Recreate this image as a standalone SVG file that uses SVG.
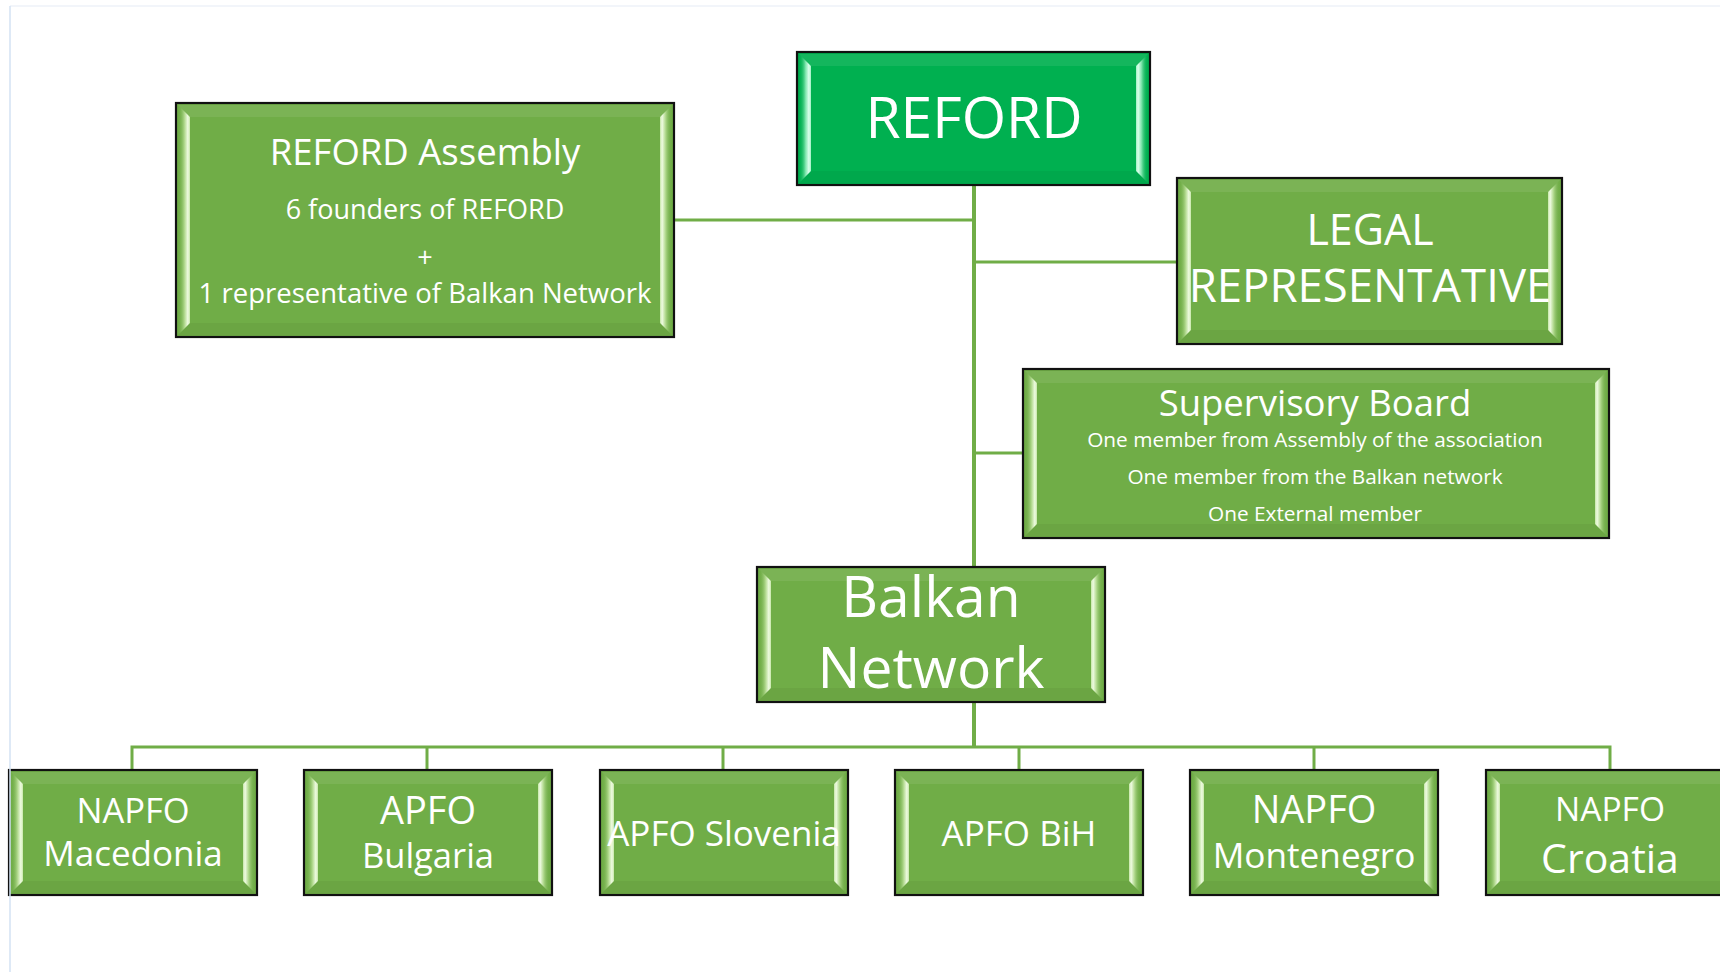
<svg xmlns="http://www.w3.org/2000/svg" xmlns:xlink="http://www.w3.org/1999/xlink" width="1720" height="972" viewBox="0 0 1720 972">
<style>
.box{fill:#70AD47;stroke:#111;stroke-width:2.2}
.boxr{fill:#00B050;stroke:#111;stroke-width:2.2}
.t{font-family:'Open Sans','Noto Sans','Liberation Sans',sans-serif;fill:#fff;text-anchor:middle}
.con{stroke:#70AD47;fill:none}
.hi{fill:#fff;fill-opacity:0.08}
.sh{fill:#000;fill-opacity:0.045}
.bl{fill:url(#gL)}
.br{fill:url(#gR)}
.blr{fill:url(#gLr)}
.brr{fill:url(#gRr)}
</style>
<defs>
<linearGradient id="gL" x1="0" y1="0" x2="1" y2="0">
<stop offset="0" stop-color="#70AD47" stop-opacity="0"/>
<stop offset="0.55" stop-color="#b3da90"/>
<stop offset="0.82" stop-color="#effbe2"/>
<stop offset="1" stop-color="#c6e6a8"/>
</linearGradient>
<linearGradient id="gR" x1="1" y1="0" x2="0" y2="0">
<stop offset="0" stop-color="#70AD47" stop-opacity="0"/>
<stop offset="0.55" stop-color="#b3da90"/>
<stop offset="0.82" stop-color="#effbe2"/>
<stop offset="1" stop-color="#c6e6a8"/>
</linearGradient>
<linearGradient id="gLr" x1="0" y1="0" x2="1" y2="0">
<stop offset="0" stop-color="#00B050" stop-opacity="0"/>
<stop offset="0.55" stop-color="#7fe6ad"/>
<stop offset="0.82" stop-color="#dcffec"/>
<stop offset="1" stop-color="#9ff0c3"/>
</linearGradient>
<linearGradient id="gRr" x1="1" y1="0" x2="0" y2="0">
<stop offset="0" stop-color="#00B050" stop-opacity="0"/>
<stop offset="0.55" stop-color="#7fe6ad"/>
<stop offset="0.82" stop-color="#dcffec"/>
<stop offset="1" stop-color="#9ff0c3"/>
</linearGradient>
<g id="leaf">
<rect class="box" x="0" y="0" width="248" height="125"/>
<polygon class="hi" points="2,2 246,2 234,14 14,14"/>
<polygon class="sh" points="2,123 246,123 234,111 14,111"/>
<polygon class="bl" points="2,2 14,14 14,111 2,123"/>
<polygon class="br" points="246,2 234,14 234,111 246,123"/>
</g>
</defs>
<rect x="0" y="0" width="1720" height="972" fill="#fff"/>

<g id="connectors">
<line class="con" stroke-width="4" x1="974" y1="185" x2="974" y2="567"/>
<line class="con" stroke-width="3" x1="674" y1="220" x2="974" y2="220"/>
<line class="con" stroke-width="3" x1="974" y1="262" x2="1177" y2="262"/>
<line class="con" stroke-width="3" x1="974" y1="453" x2="1023" y2="453"/>
<line class="con" stroke-width="4" x1="974" y1="702" x2="974" y2="747"/>
<polyline class="con" stroke-width="3" points="132,770 132,747 1610,747 1610,770"/>
<line class="con" stroke-width="3" x1="427" y1="747" x2="427" y2="770"/>
<line class="con" stroke-width="3" x1="723" y1="747" x2="723" y2="770"/>
<line class="con" stroke-width="3" x1="1019" y1="747" x2="1019" y2="770"/>
<line class="con" stroke-width="3" x1="1314" y1="747" x2="1314" y2="770"/>
</g>

<g id="reford">
<rect class="boxr" x="797" y="52" width="353" height="133"/>
<polygon class="hi" points="799,54 1148,54 1136,66 811,66"/>
<polygon class="sh" points="799,183 1148,183 1136,171 811,171"/>
<polygon class="blr" points="799,54 811,66 811,171 799,183"/>
<polygon class="brr" points="1148,54 1136,66 1136,171 1148,183"/>
<text class="t" x="974" y="138" font-size="57">REFORD</text>
</g>

<g id="assembly">
<rect class="box" x="176" y="103" width="498" height="234"/>
<polygon class="hi" points="178,105 672,105 660,117 190,117"/>
<polygon class="sh" points="178,335 672,335 660,323 190,323"/>
<polygon class="bl" points="178,105 190,117 190,323 178,335"/>
<polygon class="br" points="672,105 660,117 660,323 672,335"/>
<text class="t" x="425" y="165" font-size="36.5">REFORD Assembly</text>
<text class="t" x="425" y="219" font-size="27">6 founders of REFORD</text>
<text class="t" x="425" y="267" font-size="27">+</text>
<text class="t" x="425" y="303" font-size="27.5">1 representative of Balkan Network</text>
</g>

<g id="legal">
<rect class="box" x="1177" y="178" width="385" height="166"/>
<polygon class="hi" points="1179,180 1560,180 1548,192 1191,192"/>
<polygon class="sh" points="1179,342 1560,342 1548,330 1191,330"/>
<polygon class="bl" points="1179,180 1191,192 1191,330 1179,342"/>
<polygon class="br" points="1560,180 1548,192 1548,330 1560,342"/>
<text class="t" x="1370" y="245" font-size="43">LEGAL</text>
<text class="t" x="1370" y="302" font-size="45.5">REPRESENTATIVE</text>
</g>

<g id="supervisory">
<rect class="box" x="1023" y="369" width="586" height="169"/>
<polygon class="hi" points="1025,371 1607,371 1595,383 1037,383"/>
<polygon class="sh" points="1025,536 1607,536 1595,524 1037,524"/>
<polygon class="bl" points="1025,371 1037,383 1037,524 1025,536"/>
<polygon class="br" points="1607,371 1595,383 1595,524 1607,536"/>
<text class="t" x="1315" y="416" font-size="36.5">Supervisory Board</text>
<text class="t" x="1315" y="447" font-size="20.8">One member from Assembly of the association</text>
<text class="t" x="1315" y="484" font-size="20.8">One member from the Balkan network</text>
<text class="t" x="1315" y="521" font-size="20.8">One External member</text>
</g>

<g id="balkan">
<rect class="box" x="757" y="567" width="348" height="135"/>
<polygon class="hi" points="759,569 1103,569 1091,581 771,581"/>
<polygon class="sh" points="759,700 1103,700 1091,688 771,688"/>
<polygon class="bl" points="759,569 771,581 771,688 759,700"/>
<polygon class="br" points="1103,569 1091,581 1091,688 1103,700"/>
<text class="t" x="931" y="617" font-size="57">Balkan</text>
<text class="t" x="931" y="688" font-size="57">Network</text>
</g>

<g id="napfo-macedonia">
<use xlink:href="#leaf" x="9" y="770"/>
<text class="t" x="133" y="823" font-size="34.5">NAPFO</text>
<text class="t" x="133" y="866" font-size="35">Macedonia</text>
</g>

<g id="apfo-bulgaria">
<use xlink:href="#leaf" x="304" y="770"/>
<text class="t" x="428" y="824" font-size="38">APFO</text>
<text class="t" x="428" y="868" font-size="34.5">Bulgaria</text>
</g>

<g id="apfo-slovenia">
<use xlink:href="#leaf" x="600" y="770"/>
<text class="t" x="724" y="846" font-size="35">APFO Slovenia</text>
</g>

<g id="apfo-bih">
<use xlink:href="#leaf" x="895" y="770"/>
<text class="t" x="1019" y="846" font-size="35">APFO BiH</text>
</g>

<g id="napfo-montenegro">
<use xlink:href="#leaf" x="1190" y="770"/>
<text class="t" x="1314" y="823" font-size="38">NAPFO</text>
<text class="t" x="1314" y="868" font-size="35.2">Montenegro</text>
</g>

<g id="napfo-croatia">
<use xlink:href="#leaf" x="1486" y="770"/>
<text class="t" x="1610" y="821" font-size="33.5">NAPFO</text>
<text class="t" x="1610" y="873" font-size="41">Croatia</text>
</g>

<line x1="10" y1="6" x2="1720" y2="6" stroke="#eef2f8" stroke-width="1.5"/>
<line x1="10" y1="6" x2="10" y2="972" stroke="#d3e2f3" stroke-width="1.5"/>
</svg>
